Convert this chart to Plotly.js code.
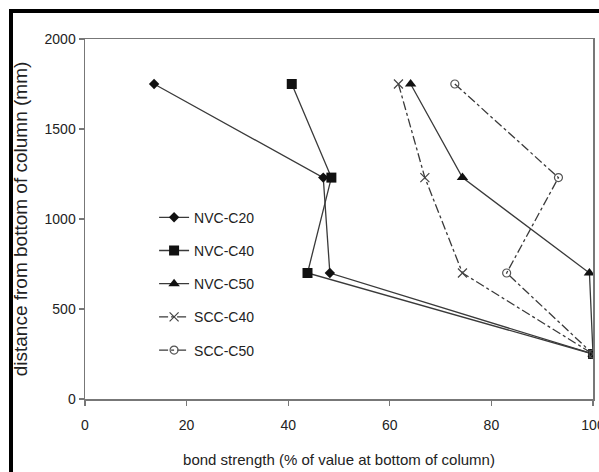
<!DOCTYPE html>
<html>
<head>
<meta charset="utf-8">
<script src="https://cdn.plot.ly/plotly-3.0.1.min.js"></script>
<style>
html,body{margin:0;padding:0;background:#fff;}
#chart{width:599px;height:472px;}
</style>
</head>
<body>
<div id="chart"></div>
<script>
// distance from bottom of column (mm)
const heights = [1750, 1230, 700, 250];
// bond strength (% of value at bottom of column)
const nvcC20 = [13.6, 46.9, 48.2, 100];
const nvcC40 = [40.7, 48.5, 43.8, 100];
const nvcC50 = [64.1, 74.3, 99.3, 100];
const sccC40 = [61.7, 66.9, 74.3, 100];
const sccC50 = [72.8, 93.2, 83.0, 100];
const seriesNames = ["NVC-C20", "NVC-C40", "NVC-C50", "SCC-C40", "SCC-C50"];
const xTicks = [0, 20, 40, 60, 80, 100];
const yTicks = [0, 500, 1000, 1500, 2000];

const lineCol = "#3a3a3a";
const font = "'Liberation Sans', Arial, sans-serif";

function tr(name, xs, dash, sym, size, mline, mcol, grp) {
  return {
    type: "scatter", mode: "lines+markers", name: name,
    x: xs, y: heights, legendgroup: grp,
    line: {color: lineCol, width: 1.3, dash: dash},
    marker: {symbol: sym, size: size, color: mcol, line: {color: mcol, width: mline}}
  };
}

const data = [
  tr(seriesNames[0], nvcC20, "solid", "diamond", 8, 0, "#111", "a"),
  tr(seriesNames[1], nvcC40, "solid", "square", 10, 0, "#111", "b"),
  tr(seriesNames[2], nvcC50, "solid", "triangle-up", 10, 0, "#111", "c"),
  tr(seriesNames[3], sccC40, "dashdot", "x-thin-open", 9, 1.2, "#444", "d"),
  tr(seriesNames[4], sccC50, "dashdot", "circle-open", 8, 1.2, "#555", "e")
];

const layout = {
  width: 599, height: 472,
  margin: {l: 85, r: 6, t: 39, b: 73},
  paper_bgcolor: "#fff", plot_bgcolor: "#fff",
  font: {family: font, color: "#222", size: 14},
  showlegend: true,
  legend: {
    x: 0.136, y: 0.548, xanchor: "left", yanchor: "top",
    bgcolor: "rgba(0,0,0,0)", borderwidth: 0,
    font: {family: font, size: 14, color: "#222"},
    traceorder: "grouped", tracegroupgap: 12
  },
  xaxis: {
    range: [0, 100], tickvals: xTicks, ticktext: xTicks.map(String),
    ticks: "outside", ticklen: 5, tickcolor: "#777", tickwidth: 1.3,
    showline: true, linecolor: "#777", linewidth: 1.5, mirror: true,
    showgrid: false, zeroline: false, ticklabeloverflow: "allow",
    ticklabelstandoff: 8,
    tickfont: {size: 14, family: font, color: "#222"},
    title: {text: "bond strength (% of value at bottom of column)", font: {size: 15, family: font, color: "#222"}, standoff: 22}
  },
  yaxis: {
    range: [0, 2000], tickvals: yTicks, ticktext: yTicks.map(String),
    ticks: "outside", ticklen: 5, tickcolor: "#777", tickwidth: 1.3,
    showline: true, linecolor: "#777", linewidth: 1.5, mirror: true,
    showgrid: false, zeroline: false,
    tickfont: {size: 14, family: font, color: "#222"},
    title: {text: "distance from bottom of column (mm)", font: {size: 19, family: font, color: "#222"}, standoff: 12}
  },
  shapes: [
    {type: "rect", xref: "paper", yref: "paper",
     x0: -76/508, x1: -72/508, y0: -73/360, y1: 1 + 30/360,
     fillcolor: "#000", line: {width: 0}, layer: "above"},
    {type: "rect", xref: "paper", yref: "paper",
     x0: -76/508, x1: 1 + 6/508, y0: 1 + 26/360, y1: 1 + 30/360,
     fillcolor: "#000", line: {width: 0}, layer: "above"}
  ]
};

Plotly.newPlot("chart", data, layout, {displayModeBar: false, staticPlot: true});
</script>
</body>
</html>
